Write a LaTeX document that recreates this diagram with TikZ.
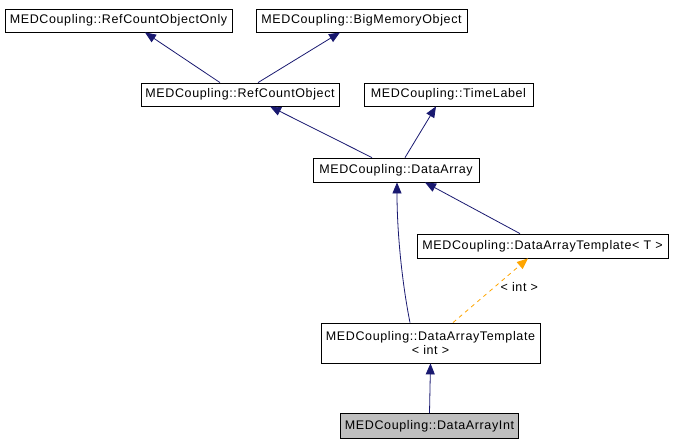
\documentclass[tikz,border=0pt]{standalone}
\usepackage{fontspec}
\setmainfont{Liberation Sans}[LetterSpace=5]
\usetikzlibrary{arrows.meta}
\definecolor{edgeblue}{HTML}{191970}
\definecolor{tmplorange}{HTML}{FFA500}
\begin{document}
\begin{tikzpicture}[x=1pt,y=-1pt,
  cls/.style={draw=black,line width=0.8pt,fill=white,inner sep=0pt,align=center,
    font=\fontsize{12.5}{14.5}\selectfont},
  inh/.style={draw=edgeblue,line width=0.8pt,-{Triangle[length=11pt,width=9pt]}},
  tmpl/.style={draw=tmplorange,line width=0.8pt,dash pattern=on 4pt off 4pt,-{Triangle[length=11pt,width=9pt]}},
  lbl/.style={font=\fontsize{12.5}{14.5}\selectfont,inner sep=0pt}]
\useasboundingbox (0,0) rectangle (673,445);
\node[cls,minimum width=227pt,minimum height=23pt] (rcoo) at (118.5,20.5) {MEDCoupling::RefCountObjectOnly};
\node[cls,minimum width=211pt,minimum height=23pt] (bmo) at (361.5,20.5) {MEDCoupling::BigMemoryObject};
\node[cls,minimum width=198pt,minimum height=23pt] (rco) at (240,94.5) {MEDCoupling::RefCountObject};
\node[cls,minimum width=169pt,minimum height=23pt] (tl) at (448.5,94.5) {MEDCoupling::TimeLabel};
\node[cls,minimum width=166pt,minimum height=24pt] (da) at (396,170) {MEDCoupling::DataArray};
\node[cls,minimum width=251pt,minimum height=24pt] (datt) at (542.5,246) {MEDCoupling::DataArrayTemplate< T >};
\node[cls,minimum width=219pt,minimum height=40pt] (dati) at (430.5,343) {MEDCoupling::DataArrayTemplate\\< int >};
\node[cls,fill={rgb,255:red,191;green,191;blue,191},minimum width=178pt,minimum height=25pt] (dai) at (429.5,426) {MEDCoupling::DataArrayInt};

\draw[inh] ([xshift=-20pt]rco.north) -- ([xshift=26.5pt]rcoo.south);
\draw[inh] ([xshift=18pt]rco.north) -- ([xshift=-21.5pt]bmo.south);
\draw[inh] ([xshift=-24pt]da.north) -- ([xshift=30pt]rco.south);
\draw[inh] ([xshift=9pt]da.north) -- ([xshift=-12.5pt]tl.south);
\draw[inh] ([xshift=-22.5pt]datt.north) -- ([xshift=29pt]da.south);
\draw[inh] ([xshift=-20.5pt]dati.north) .. controls +(-8,-40) and +(0,50) .. ([xshift=1pt]da.south);
\draw[tmpl] ([xshift=22.5pt]dati.north) -- node[lbl,pos=0.55,right=6pt] {< int >} ([xshift=-14.5pt]datt.south);
\draw[inh] (dai.north) -- (dati.south);
\end{tikzpicture}
\end{document}
